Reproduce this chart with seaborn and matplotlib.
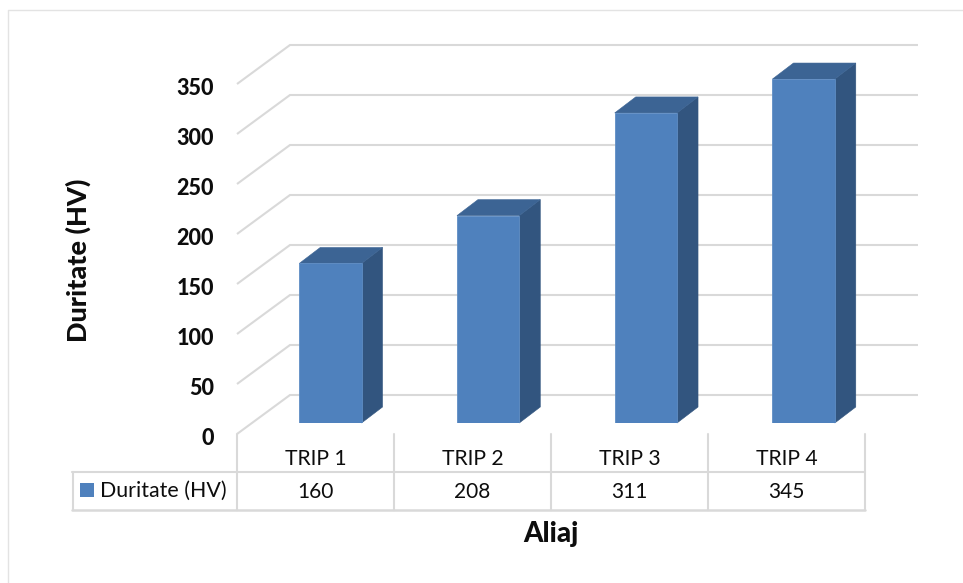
import matplotlib
matplotlib.use("Agg")
import matplotlib.pyplot as plt
from matplotlib.patches import Polygon, Rectangle
import seaborn as sns
import pandas as pd

alloys = ["TRIP 1", "TRIP 2", "TRIP 3", "TRIP 4"]
hardness = [160, 208, 311, 345]
y_ticks = [0, 50, 100, 150, 200, 250, 300, 350]
series_name = "Duritate (HV)"
x_title = "Aliaj"

FRONT, SIDE, TOP = "#4F81BD", "#32557F", "#3C6494"
EDGE = "#5F8DC4"
LINE = "#D9D9D9"
INK = "#0D0D0D"

W, H = 963, 583
sns.set_theme(style="white")
plt.rcParams["font.family"] = ["Lato", "DejaVu Sans"]

fig = plt.figure(figsize=(W / 100, H / 100), dpi=100, facecolor="white")

# Full-figure layer in pixel units for the walls, the data table and the labels
chrome = fig.add_axes([0, 0, 1, 1], zorder=1)
chrome.set_xlim(0, W)
chrome.set_ylim(H, 0)
chrome.axis("off")

# Outer chart border
chrome.plot([7.5, 7.5, W], [H, 9.5, 9.5], color="#E3E3E3", lw=1.0, solid_capstyle="butt")

# Side wall and back wall gridlines, one per tick
for tick in y_ticks:
    front_y = 434 - tick
    back_y = 395 - tick
    chrome.plot([237, 290, 918], [front_y, back_y, back_y], color=LINE, lw=1.5,
                solid_joinstyle="miter", solid_capstyle="butt")

# Value axis labels
for tick in y_ticks:
    chrome.text(214, 438.5 - tick, str(tick), ha="right", va="center",
                fontsize=15.5, fontweight="black", color=INK)

# Data table grid
columns = [237, 394, 551, 708, 865]
chrome.plot([72, 865], [472, 472], color=LINE, lw=1.5)
chrome.plot([72, 865], [509.5, 509.5], color=LINE, lw=1.8)
chrome.plot([72.5, 72.5], [472, 510], color=LINE, lw=1.5)
for cx in columns:
    chrome.plot([cx, cx], [434, 510], color=LINE, lw=1.5)

# Data table contents
chrome.add_patch(Rectangle((80, 483), 14, 14, facecolor=FRONT, edgecolor="none"))
chrome.text(100, 491, series_name, ha="left", va="center", fontsize=15.4, color=INK)
for left, right, name, value in zip(columns[:-1], columns[1:], alloys, hardness):
    mid = (left + right) / 2
    chrome.text(mid, 459, name, ha="center", va="center", fontsize=15.2, color=INK)
    chrome.text(mid, 492, str(value), ha="center", va="center", fontsize=15, color=INK)

# Axis titles
chrome.text(551, 534, x_title, ha="center", va="center", fontsize=20, fontweight="black", color=INK)
chrome.text(78, 260, series_name, ha="center", va="center", rotation=90,
            fontsize=19.5, fontweight="black", color=INK)

# Bar layer: x spans the four categories, y is in hardness units
unit = 0.997
left_px, right_px = 251.5, 882.5
floor_px = 423
top_value = 350
bars_ax = fig.add_axes([left_px / W, 1 - floor_px / H,
                        (right_px - left_px) / W, top_value * unit / H], zorder=2)
bars_ax.patch.set_alpha(0)

table = pd.DataFrame({"alloy": alloys, "hardness": hardness})
sns.barplot(data=table, x="alloy", y="hardness", color=FRONT, saturation=1,
            width=0.395, ax=bars_ax, edgecolor=EDGE, linewidth=0.6, zorder=3)
bars_ax.set_xlim(-0.5, 3.5)
bars_ax.set_ylim(0, top_value)
bars_ax.axis("off")

# Extruded side and top faces, offset backward from each front face
depth_x = 21 / ((right_px - left_px) / 4)
depth_y = 16 / unit
for bar in bars_ax.patches[:len(alloys)]:
    x0, x1 = bar.get_x(), bar.get_x() + bar.get_width()
    v = bar.get_height()
    bars_ax.add_patch(Polygon([(x1, 0), (x1 + depth_x, depth_y), (x1 + depth_x, v + depth_y), (x1, v)],
                              facecolor=SIDE, edgecolor=SIDE, lw=0.4, clip_on=False, zorder=2))
    bars_ax.add_patch(Polygon([(x0, v), (x0 + depth_x, v + depth_y), (x1 + depth_x, v + depth_y), (x1, v)],
                              facecolor=TOP, edgecolor=TOP, lw=0.4, clip_on=False, zorder=2))

fig.savefig("out.png", dpi=100, facecolor="white")
